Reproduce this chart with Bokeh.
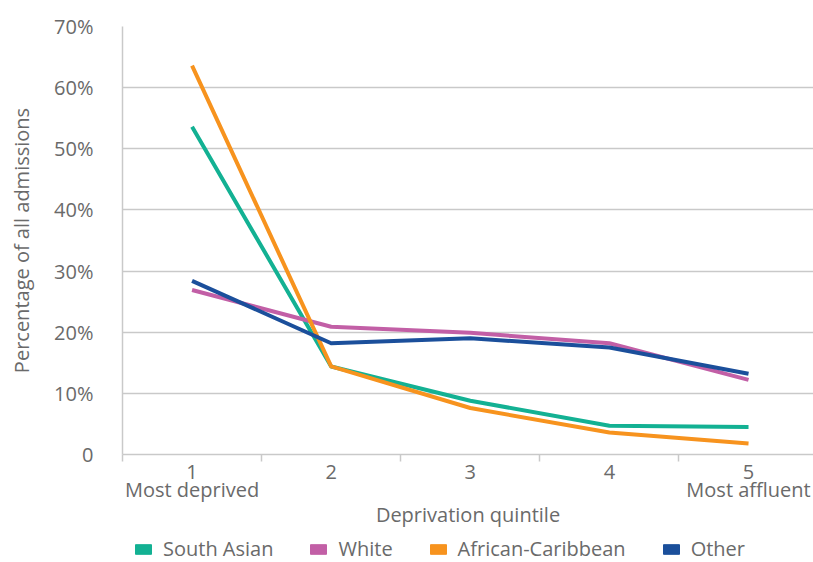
from bokeh.plotting import figure
from bokeh.models import FixedTicker, Legend, LegendItem, Range1d, LinearAxis
from bokeh.layouts import column
from bokeh.embed import file_html
from bokeh.resources import INLINE

quintiles = [1, 2, 3, 4, 5]
quintile_labels = ["1", "2", "3", "4", "5"]
end_positions = [1, 5]
end_labels = ["Most deprived", "Most affluent"]
south_asian = [53.6, 14.4, 8.8, 4.7, 4.5]
white = [26.9, 20.9, 19.9, 18.2, 12.2]
african_caribbean = [63.6, 14.4, 7.6, 3.6, 1.8]
other = [28.4, 18.2, 19.0, 17.5, 13.2]
y_ticks = [0, 10, 20, 30, 40, 50, 60, 70]
y_tick_labels = ["0", "10%", "20%", "30%", "40%", "50%", "60%", "70%"]

series = [
    ("South Asian", south_asian, "#13b193"),
    ("White", white, "#c25fa6"),
    ("African-Caribbean", african_caribbean, "#f7931e"),
    ("Other", other, "#1b4f9b"),
]

FONT = "Open Sans"
FS = "20px"
TXT = "#6a6a6a"
GRID = "#c9c9c9"

p = figure(width=813, height=530, output_backend="svg", toolbar_location=None,
           x_range=Range1d(0.5, 5.467), y_range=Range1d(0, 70),
           min_border_left=122, min_border_top=26, min_border_right=0,
           min_border_bottom=75)
p.outline_line_color = None
p.background_fill_color = "white"
p.border_fill_color = "white"

for name, vals, col in series:
    p.line(quintiles, vals, line_color=col, line_width=4, line_join="round")

# x axis (numbers)
xa = p.xaxis[0]
xa.ticker = FixedTicker(ticks=quintiles, minor_ticks=[0.5, 1.5, 2.5, 3.5, 4.5])
xa.major_label_overrides = {q: l for q, l in zip(quintiles, quintile_labels)}
xa.major_tick_out = 0
xa.major_tick_in = 0
xa.minor_tick_out = 7
xa.minor_tick_in = 0
xa.minor_tick_line_color = GRID
xa.minor_tick_line_width = 1.5
xa.axis_line_color = GRID
xa.axis_line_width = 1.5
xa.major_label_text_font = FONT
xa.major_label_text_font_size = FS
xa.major_label_text_color = TXT
xa.major_label_standoff = 3

# second x axis (end descriptions + title)
xb = LinearAxis(ticker=FixedTicker(ticks=end_positions, minor_ticks=[]))
xb.major_label_overrides = {q: l for q, l in zip(end_positions, end_labels)}
xb.axis_line_color = None
xb.major_tick_line_color = None
xb.minor_tick_line_color = None
xb.major_tick_out = 0
xb.major_tick_in = 0
xb.major_label_text_font = FONT
xb.major_label_text_font_size = FS
xb.major_label_text_color = TXT
xb.major_label_standoff = -6
xb.axis_label = "Deprivation quintile"
xb.axis_label_text_font = FONT
xb.axis_label_text_font_size = FS
xb.axis_label_text_font_style = "normal"
xb.axis_label_text_color = TXT
xb.axis_label_standoff = -5
p.add_layout(xb, "below")

# y axis
ya = p.yaxis[0]
ya.ticker = FixedTicker(ticks=y_ticks)
ya.major_label_overrides = {t: l for t, l in zip(y_ticks, y_tick_labels)}
ya.major_tick_out = 0
ya.major_tick_in = 0
ya.minor_tick_out = 0
ya.minor_tick_in = 0
ya.axis_line_color = GRID
ya.axis_line_width = 1.5
ya.major_label_text_font = FONT
ya.major_label_text_font_size = FS
ya.major_label_text_color = TXT
ya.major_label_standoff = 29
ya.axis_label = "Percentage of all admissions"
ya.axis_label_text_font = FONT
ya.axis_label_text_font_size = FS
ya.axis_label_text_font_style = "normal"
ya.axis_label_text_color = TXT
ya.axis_label_standoff = 16

p.xgrid.grid_line_color = None
p.ygrid.ticker = FixedTicker(ticks=y_ticks)
p.ygrid.grid_line_color = GRID
p.ygrid.grid_line_width = 1.5

# legend in its own strip below the chart (its data lies outside the strip's view)
lf = figure(width=813, height=32, output_backend="svg", toolbar_location=None,
            x_range=Range1d(0.5, 5.467), y_range=Range1d(-1000, -999),
            x_axis_location=None, y_axis_location=None,
            min_border_left=122, min_border_right=0, min_border_top=0, min_border_bottom=0)
lf.outline_line_color = None
lf.xgrid.visible = False
lf.ygrid.visible = False
sq_renderers = []
for name, vals, col in series:
    sr = lf.rect(x=quintiles, y=vals, width=0.1, height=1, fill_color=col, line_color=col)
    sq_renderers.append(sr)

legend = Legend(items=[LegendItem(label=n, renderers=[sr]) for (n, _, _), sr in zip(series, sq_renderers)],
                orientation="horizontal", location=(11, 0),
                glyph_width=20, glyph_height=12, label_standoff=10, spacing=35,
                padding=0, margin=0, border_line_color=None,
                background_fill_alpha=0,
                label_text_font=FONT, label_text_font_size=FS,
                label_text_color=TXT)
lf.add_layout(legend, "center")

layout = column(p, lf, spacing=0)
open("out.html", "w").write(file_html(layout, INLINE))
